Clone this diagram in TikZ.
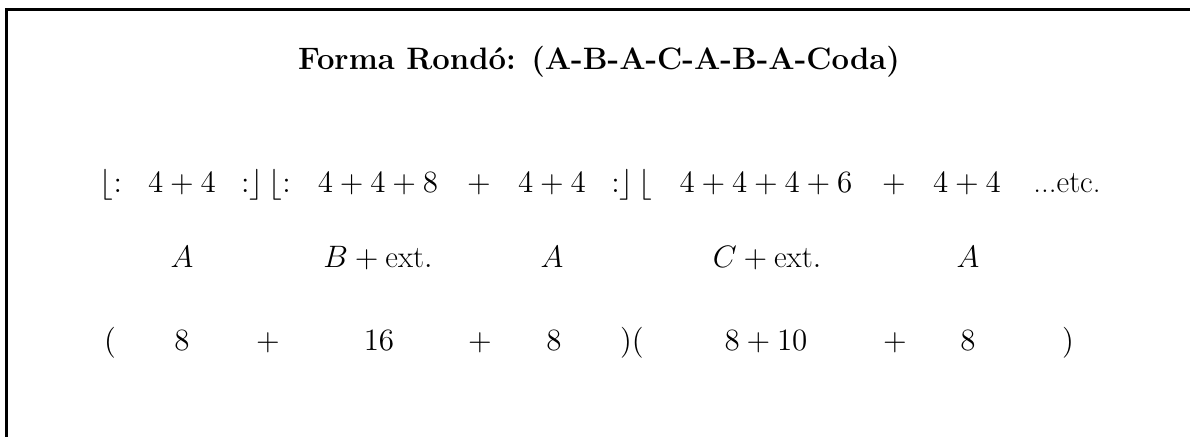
\RequirePackage{fix-cm}
\documentclass[tikz,border=0pt]{standalone}
\usepackage{fontspec}
\begin{document}
\begin{tikzpicture}[x=0.5pt,y=-0.5pt,
  txt/.style={anchor=base,inner sep=0pt,font=\fontsize{15.5}{18}\selectfont},
  ttl/.style={anchor=base,inner sep=0pt,font=\fontsize{15.5}{18}\selectfont\bfseries},
  frame/.style={line width=1.5pt,line join=miter}]
\useasboundingbox (0,0) rectangle (1190,437);
\coordinate (fa) at (6.5,437);
\coordinate (fb) at (6.5,9.3);
\coordinate (fc) at (1190,9.3);
\draw[frame] (fa) -- (fb) -- (fc);
% title
\node[ttl] (title) at (599,70) {Forma Rondó: (A-B-A-C-A-B-A-Coda)};
% row 1
\node[txt] (r1a) at (111,193) {$\big\lfloor{:}$};
\node[txt] (r1b) at (182,193) {$4+4$};
\node[txt] (r1c) at (266,193) {${:}\big\rfloor\,\big\lfloor{:}$};
\node[txt] (r1d) at (378,193) {$4+4+8$};
\node[txt] (r1e) at (479,193) {$+$};
\node[txt] (r1f) at (552,193) {$4+4$};
\node[txt] (r1g) at (632,193) {${:}\big\rfloor\,\big\lfloor$};
\node[txt] (r1h) at (766,193) {$4+4+4+6$};
\node[txt] (r1i) at (894,193) {$+$};
\node[txt] (r1j) at (967,193) {$4+4$};
\node[txt] (r1k) at (1067,193) {...etc.};
% row 2
\node[txt] (r2a) at (182,268) {$A$};
\node[txt] (r2b) at (378,268) {$B+\mathrm{ext.}$};
\node[txt] (r2c) at (552,268) {$A$};
\node[txt] (r2d) at (767,268) {$C+\mathrm{ext.}$};
\node[txt] (r2e) at (968,268) {$A$};
% row 3
\node[txt] (r3a) at (110,351) {$($};
\node[txt] (r3b) at (182,351) {$8$};
\node[txt] (r3c) at (268,351) {$+$};
\node[txt] (r3d) at (379,351) {$16$};
\node[txt] (r3e) at (480,351) {$+$};
\node[txt] (r3f) at (554,351) {$8$};
\node[txt] (r3g) at (632,351) {$)($};
\node[txt] (r3h) at (766,351) {$8+10$};
\node[txt] (r3i) at (895,351) {$+$};
\node[txt] (r3j) at (968,351) {$8$};
\node[txt] (r3k) at (1068,351) {$)$};
\end{tikzpicture}
\end{document}
